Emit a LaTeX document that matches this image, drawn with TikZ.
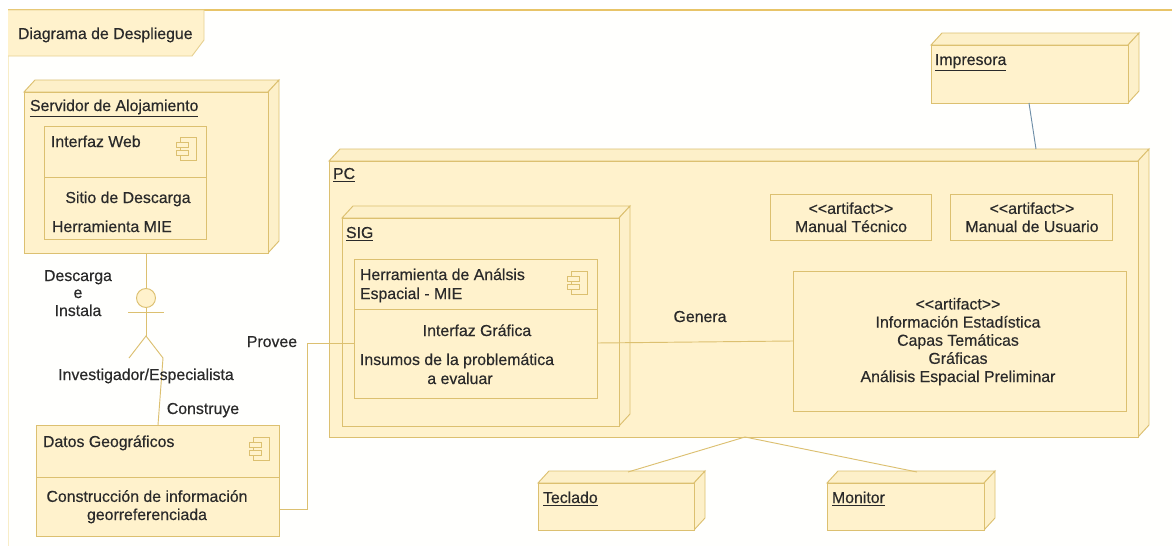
\documentclass[tikz,border=0pt]{standalone}
\usepackage{fontspec}
\setmainfont{Liberation Sans}[FakeBold=0.4]
\usetikzlibrary{calc}
\definecolor{umlfill}{HTML}{FFF2CC}
\definecolor{umlside}{HTML}{FDF0C9}
\definecolor{umlline}{HTML}{DCC070}
\definecolor{umlpale}{HTML}{F8EDC8}
\definecolor{umltext}{HTML}{2A2A2A}
\definecolor{printline}{HTML}{6F8FA8}
\definecolor{frametint}{HTML}{FFFFFD}
\definecolor{frametop}{HTML}{E8C468}
\tikzset{
  face/.style={draw=umlline,fill=umlfill,line width=0.7pt,line join=miter},
  sideface/.style={draw=umlline,fill=umlside,line width=0.7pt},
  edge/.style={draw=umlline,line width=0.7pt},
  txt/.style={font=\fontsize{11.9pt}{13.6pt}\selectfont,text=umltext,inner sep=0pt,outer sep=0pt},
  ltxt/.style={txt,anchor=base west},
  ctxt/.style={txt,anchor=base,align=center},
}
% name, x1, y1, x2, y2
\newcommand{\boxnode}[5]{%
  \node[face,rectangle,inner sep=0pt,outer sep=0pt,minimum width=(#4-#2)*0.75pt,minimum height=(#5-#3)*0.75pt,anchor=north west]
    (#1) at (#2,#3) {};}
\newcommand{\boxthreed}[5]{%
  \path[sideface] (#2,#3) -- ++(11,-12) -- (#4+11,#3-12) -- (#4,#3) -- cycle;
  \path[sideface] (#4,#3) -- (#4+11,#3-12) -- (#4+11,#5-12) -- (#4,#5) -- cycle;
  \boxnode{#1}{#2}{#3}{#4}{#5}}
\newcommand{\compicon}[2]{%
  \draw[edge] (#1+4,#2) -- ++(16,0) -- ++(0,23) -- ++(-16,0) -- cycle;
  \draw[edge,fill=umlfill] (#1,#2+5) rectangle ++(12,5);
  \draw[edge,fill=umlfill] (#1,#2+13) rectangle ++(12,5);}
\begin{document}
\begin{tikzpicture}[x=0.75pt,y=-0.75pt]
\useasboundingbox (0,0) rectangle (1172,546);
% frame
\fill[white] (0,0) rectangle (1172,546);
\fill[frametint] (8,10) rectangle (1172,546);
\draw[umlpale,line width=0.7pt] (8,546) -- (8,10);
\draw[frametop,line width=0.8pt] (8,10) -- (1172,10);
\path[face,draw=umlpale!40!umlline] (8,10) -- (204,10) -- (204,40) -- (192,56) -- (8,56);
\node[ltxt] (title) at (18,39) {Diagrama de Despliegue};

% nodes
\boxthreed{pc}{329}{161}{1138}{437}
\node[ltxt] (pclbl) at (333,179) {\underline{PC}};
\boxthreed{sig}{342}{218}{619}{426}
\node[ltxt] (siglbl) at (346,238) {\underline{SIG}};

\boxthreed{imp}{931}{45}{1128}{103}
\node[ltxt] (implbl) at (935,65) {\underline{Impresora}};
\boxthreed{tec}{538}{483}{694}{530}
\node[ltxt] (teclbl) at (543,503) {\underline{Teclado}};
\boxthreed{mon}{827}{483}{984}{530}
\node[ltxt] (monlbl) at (832,503) {\underline{Monitor}};
\boxthreed{srv}{24}{92}{268}{253}
\node[ltxt] (srvlbl) at (30,111) {\underline{Servidor de Alojamiento}};

% named connector ends on the back edges and along node sides
\coordinate (tecTop) at (628,472);
\coordinate (monTop) at (917,472);
\coordinate (pcTop) at (1036,149);
\coordinate (impBot) at (1029,103);
\coordinate (pcBot) at (745,437);
\coordinate (datTop) at (158,425);
\coordinate (datOut) at (279,509);
\coordinate (elbowA) at (307,509);
\coordinate (elbowB) at (307,343);
\coordinate (herIn) at (354,343);
\coordinate (herOut) at (597,343);
\coordinate (resIn) at (793,341);

% components
\boxnode{web}{44}{126}{206}{239}
\coordinate (webdA) at (44,177); \coordinate (webdB) at (206,177);
\draw[edge] (webdA) -- (webdB);
\compicon{176}{137}
\node[ltxt] (weblbl) at (51,147) {Interfaz Web};
\node[ctxt] (webb) at (128,203) {Sitio de Descarga};
\node[ltxt] (webc) at (52,232) {Herramienta MIE};

\boxnode{dat}{36}{425}{279}{536}
\coordinate (datdA) at (36,477); \coordinate (datdB) at (279,477);
\draw[edge] (datdA) -- (datdB);
\compicon{249}{437}
\node[ltxt] (datlbl) at (43,447) {Datos Geográficos};
\node[ctxt] (datb) at (147,520) {Construcción de información\\georreferenciada};

\boxnode{her}{354}{259}{597}{398}
\coordinate (herdA) at (354,309); \coordinate (herdB) at (597,309);
\draw[edge] (herdA) -- (herdB);
\compicon{567}{271}
\node[ltxt] (herlbl) at (360,280) {Herramienta de Análsis};
\node[ltxt] (herlblb) at (360,299) {Espacial - MIE};
\node[ctxt] (herb) at (477,336) {Interfaz Gráfica};
\node[ltxt] (herc) at (360,365) {Insumos de la problemática};
\node[ctxt] (herd) at (460,384) {a evaluar};

% artifacts
\boxnode{manT}{770}{194}{931}{240}
\node[ctxt] (manTt) at (851,232) {<{}<artifact>{}>\\Manual Técnico};
\boxnode{manU}{950}{194}{1112}{240}
\node[ctxt] (manUt) at (1032,232) {<{}<artifact>{}>\\Manual de Usuario};
\boxnode{res}{793}{271}{1126}{411}
\node[ctxt] (rest) at (958,382) {<{}<artifact>{}>\\Información Estadística\\Capas Temáticas\\Gráficas\\Análisis Espacial Preliminar};

% actor
\node[circle,face,minimum size=14.25pt,inner sep=0pt,outer sep=0pt] (head) at (146,298) {};
\coordinate (neck) at (146,336);
\coordinate (legL) at (129,358);
\coordinate (legR) at (163,358);
\coordinate (armL) at (128,312);
\coordinate (armR) at (164,312);
\draw[edge] (head.south) -- (neck);
\draw[edge] (armL) -- (armR);
\draw[edge] (legL) -- (neck) -- (legR);

% connectors
\draw[edge] (head.north |- srv.south) -- (head.north);
\draw[edge] (legR) -- (datTop);
\draw[edge] (datOut) -- (elbowA) -- (elbowB) -- (herIn);
\draw[edge] (herOut) -- (resIn);
\draw[printline,line width=0.7pt] (impBot) -- (pcTop);
\draw[edge] (pcBot) -- (tecTop);
\draw[edge] (pcBot) -- (monTop);

% edge labels
\node[ctxt] (l1) at (78,281) {Descarga};
\node[ctxt] (l2) at (78,298) {e};
\node[ctxt] (l3) at (78,316) {Instala};
\node[ctxt] (l4) at (146,380) {Investigador/Especialista};
\node[ctxt] (l5) at (203,414) {Construye};
\node[ctxt] (l6) at (272,347) {Provee};
\node[ctxt] (l7) at (700,322) {Genera};
\end{tikzpicture}
\end{document}
